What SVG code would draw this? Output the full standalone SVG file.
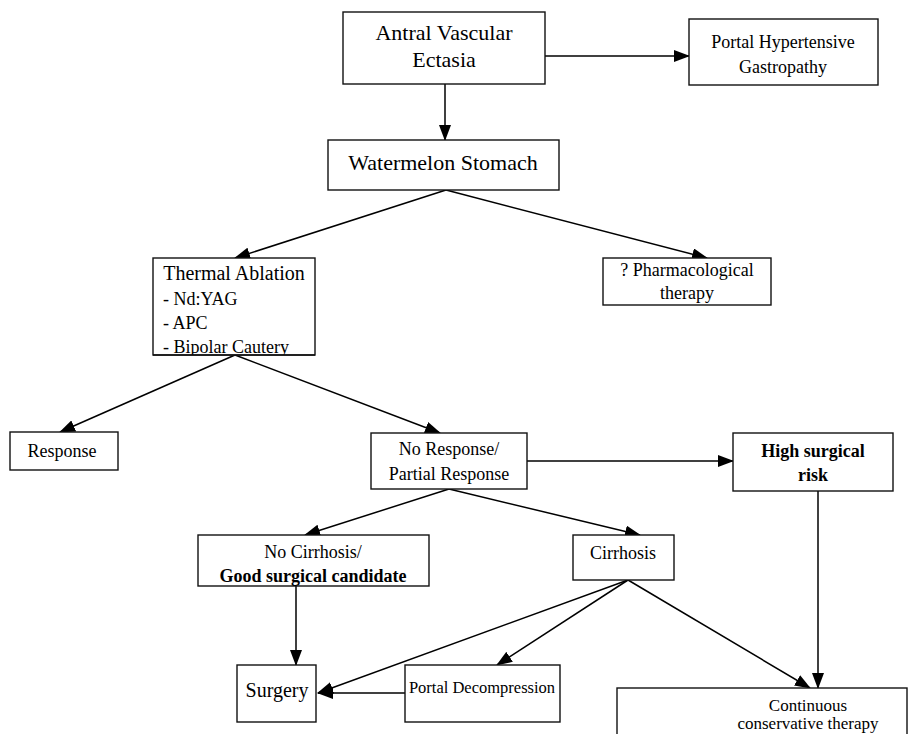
<svg xmlns="http://www.w3.org/2000/svg" width="908" height="734" viewBox="0 0 908 734">
<style>
.box{fill:#fff;stroke:#111;stroke-width:1.4}
.t{font-family:"Liberation Serif","Times New Roman",serif;fill:#000;text-anchor:middle}
.s{text-anchor:start}
.b{font-weight:bold}
.c{fill:none;stroke:#000;stroke-width:1.5}
</style>
<defs>
<marker id="ah" markerUnits="userSpaceOnUse" markerWidth="16" markerHeight="12" refX="15" refY="6" orient="auto">
<path d="M0,0 L16,6 L0,12 Z" fill="#000"/>
</marker>
<clipPath id="thclip"><rect x="153" y="258" width="162" height="97"/></clipPath>
</defs>
<g id="connectors">
<line class="c" x1="545" y1="56" x2="689" y2="56" marker-end="url(#ah)"/>
<line class="c" x1="445" y1="84" x2="445" y2="140" marker-end="url(#ah)"/>
<line class="c" x1="446" y1="190" x2="235" y2="258" marker-end="url(#ah)"/>
<line class="c" x1="446" y1="190" x2="707" y2="258" marker-end="url(#ah)"/>
<line class="c" x1="235" y1="355" x2="60" y2="432" marker-end="url(#ah)"/>
<line class="c" x1="235" y1="355" x2="440" y2="433" marker-end="url(#ah)"/>
<line class="c" x1="527" y1="461" x2="733" y2="461" marker-end="url(#ah)"/>
<line class="c" x1="449" y1="489" x2="305" y2="535" marker-end="url(#ah)"/>
<line class="c" x1="449" y1="489" x2="640" y2="535" marker-end="url(#ah)"/>
<line class="c" x1="818" y1="491" x2="818" y2="688" marker-end="url(#ah)"/>
<line class="c" x1="296" y1="586" x2="296" y2="665" marker-end="url(#ah)"/>
<line class="c" x1="628" y1="580" x2="318" y2="693" marker-end="url(#ah)"/>
<line class="c" x1="628" y1="580" x2="497" y2="665" marker-end="url(#ah)"/>
<line class="c" x1="628" y1="580" x2="810" y2="688" marker-end="url(#ah)"/>
<line class="c" x1="405" y1="693" x2="318" y2="693" marker-end="url(#ah)"/>
</g>
<g id="antral">
<rect class="box" x="343" y="12" width="202" height="72"/>
<text class="t" x="444" y="40" font-size="22">Antral Vascular</text>
<text class="t" x="444" y="67" font-size="22">Ectasia</text>
</g>
<g id="phg">
<rect class="box" x="689" y="19" width="189" height="66"/>
<text class="t" x="783" y="48" font-size="18">Portal Hypertensive</text>
<text class="t" x="783" y="73" font-size="18">Gastropathy</text>
</g>
<g id="watermelon">
<rect class="box" x="328" y="140" width="231" height="50"/>
<text class="t" x="443" y="170" font-size="22">Watermelon Stomach</text>
</g>
<g id="thermal">
<rect class="box" x="153" y="258" width="162" height="97"/>
<g clip-path="url(#thclip)">
<text class="t" x="234" y="280" font-size="20">Thermal Ablation</text>
<text class="t s" x="163" y="305" font-size="18">- Nd:YAG</text>
<text class="t s" x="163" y="329" font-size="18">- APC</text>
<text class="t s" x="163" y="353" font-size="18">- Bipolar Cautery</text>
</g>
<line x1="153" y1="355" x2="315" y2="355" stroke="#111" stroke-width="1.4"/>
</g>
<g id="pharm">
<rect class="box" x="603" y="258" width="168" height="47"/>
<text class="t" x="687" y="276" font-size="18">? Pharmacological</text>
<text class="t" x="687" y="299" font-size="18">therapy</text>
</g>
<g id="response">
<rect class="box" x="10" y="432" width="108" height="38"/>
<text class="t" x="62" y="457" font-size="18">Response</text>
</g>
<g id="noresponse">
<rect class="box" x="371" y="433" width="156" height="56"/>
<text class="t" x="449" y="455" font-size="18">No Response/</text>
<text class="t" x="449" y="480" font-size="18">Partial Response</text>
</g>
<g id="highrisk">
<rect class="box" x="733" y="433" width="160" height="58"/>
<text class="t b" x="813" y="457" font-size="18">High surgical</text>
<text class="t b" x="813" y="481" font-size="18">risk</text>
</g>
<g id="nocirrhosis">
<rect class="box" x="198" y="535" width="231" height="51"/>
<text class="t" x="313" y="558" font-size="18">No Cirrhosis/</text>
<text class="t b" x="313" y="582" font-size="18">Good surgical candidate</text>
</g>
<g id="cirrhosis">
<rect class="box" x="573" y="535" width="101" height="45"/>
<text class="t" x="623" y="559" font-size="18">Cirrhosis</text>
</g>
<g id="surgery">
<rect class="box" x="237" y="665" width="79" height="57"/>
<text class="t" x="277" y="697" font-size="20">Surgery</text>
</g>
<g id="portal">
<rect class="box" x="405" y="665" width="155" height="57"/>
<text class="t" x="482" y="693" font-size="16.5">Portal Decompression</text>
</g>
<g id="continuous">
<rect class="box" x="617" y="688" width="290" height="60"/>
<text class="t" x="808" y="711" font-size="17">Continuous</text>
<text class="t" x="808" y="729" font-size="17">conservative therapy</text>
</g>
</svg>
